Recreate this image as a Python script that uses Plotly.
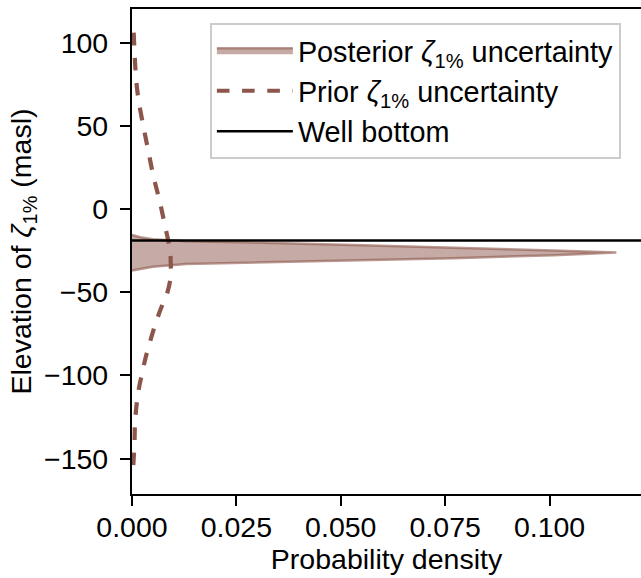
import plotly.graph_objects as go

# Posterior density of zeta_1% elevation (elevation in masl, density)
post_elev = [-37.0, -34.7, -33.0, -32.2, -31.0, -29.6, -27.8, -26.2,
             -25.0, -23.2, -21.6, -20.2, -19.4, -18.2, -17.0, -15.6]
post_dens = [0.0, 0.005, 0.013, 0.029, 0.053, 0.077, 0.101, 0.116,
             0.101, 0.077, 0.053, 0.029, 0.013, 0.005, 0.002, 0.0]

# Prior density of zeta_1% elevation
prior_elev = [106, 95, 85, 75, 65, 50, 35, 20, 5, -10, -25, -35, -40, -50,
              -60, -70, -80, -90, -100, -110, -120, -130, -140, -150, -158]
prior_dens = [0.0004, 0.0006, 0.0008, 0.0011, 0.0016, 0.0027, 0.0039, 0.0051,
              0.0066, 0.0079, 0.0091, 0.0093, 0.0093, 0.0085, 0.0069, 0.0055,
              0.0043, 0.0032, 0.0023, 0.0015, 0.0010, 0.0007, 0.0006, 0.0004,
              0.0002]

well_bottom = -19.0

x_ticks = [0.0, 0.025, 0.05, 0.075, 0.1]
y_ticks = [-150, -100, -50, 0, 50, 100]
X_RANGE = [0.0, 0.1219]
Y_RANGE = [-171.3, 120.2]

BROWN = "rgb(140,86,75)"
FONT = "Liberation Sans, Arial, sans-serif"
FS = 28.5

fig = go.Figure()

fig.add_trace(go.Scatter(
    x=post_dens, y=post_elev, mode="lines", fill="tozerox",
    fillcolor="rgba(140,86,75,0.5)",
    line=dict(color="rgba(140,86,75,0.6)", width=2.5),
    name="Posterior <i>ζ</i><sub>1%</sub> uncertainty",
))

fig.add_trace(go.Scatter(
    x=prior_dens, y=prior_elev, mode="lines",
    line=dict(color=BROWN, width=4.2, dash="dash", shape="spline"),
    name="Prior <i>ζ</i><sub>1%</sub> uncertainty",
))

fig.add_trace(go.Scatter(
    x=X_RANGE, y=[well_bottom, well_bottom], mode="lines",
    line=dict(color="black", width=2.5),
    name="Well bottom",
))

fig.update_layout(
    width=641, height=578,
    margin=dict(l=132, r=0, t=9, b=84),
    paper_bgcolor="white", plot_bgcolor="white",
    font=dict(family=FONT, size=FS, color="black"),
    showlegend=True,
    legend=dict(
        x=0.153, y=0.971, xanchor="left", yanchor="top",
        bgcolor="rgba(255,255,255,0.8)", bordercolor="#cccccc", borderwidth=2,
        font=dict(family=FONT, size=28.8), itemwidth=76,
    ),
    xaxis=dict(
        range=X_RANGE, tickvals=x_ticks, tickformat=".3f",
        showgrid=False, zeroline=False,
        showline=True, linecolor="black", linewidth=2.2, mirror=True,
        ticks="outside", ticklen=10, tickwidth=2.2, tickcolor="black",
        ticklabelstandoff=-3,
        title=dict(text="Probability density", standoff=2,
                   font=dict(family=FONT, size=FS)),
    ),
    yaxis=dict(
        range=Y_RANGE, tickvals=y_ticks,
        showgrid=False, zeroline=False,
        showline=True, linecolor="black", linewidth=2.2,
        ticks="outside", ticklen=10, tickwidth=2.2, tickcolor="black",
        ticklabelstandoff=6,
        title=dict(text="Elevation of <i>ζ</i><sub>1%</sub> (masl)", standoff=4,
                   font=dict(family=FONT, size=FS)),
    ),
)

fig.write_html("out.html")
